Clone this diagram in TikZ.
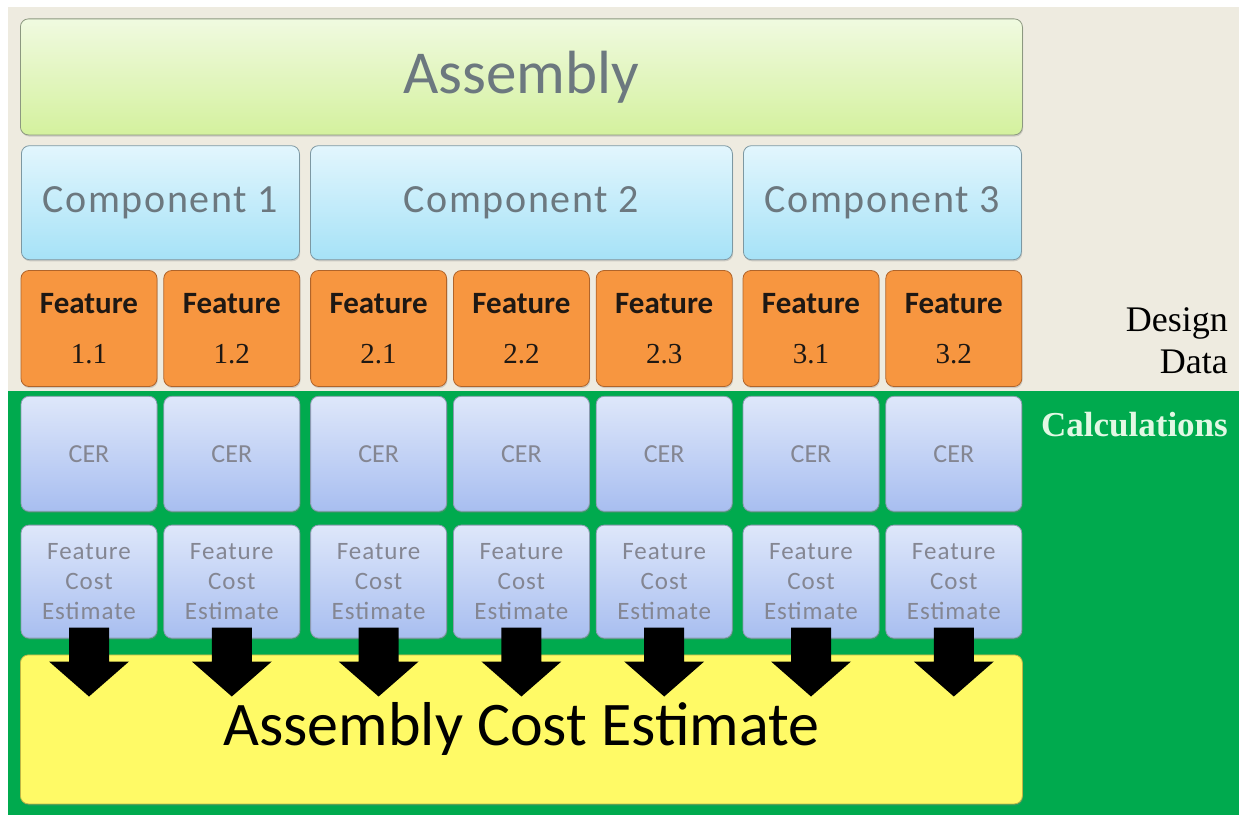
\documentclass[tikz,border=0pt]{standalone}
\usepackage{xcolor}
\usepackage{fontspec}
\setmainfont{Carlito}
\newfontfamily\serifface{Liberation Serif}
\newfontfamily\spacedface[LetterSpace=4]{Carlito}
\usepackage{tikz}
\usetikzlibrary{positioning, calc, shadows}

\definecolor{paper}{RGB}{238,235,224}
\definecolor{calcgreen}{RGB}{0,170,78}
\definecolor{labelgray}{RGB}{108,120,127}
\definecolor{cergray}{RGB}{132,134,146}
\definecolor{featorange}{RGB}{247,150,64}

\begin{document}
\begin{tikzpicture}[x=1pt, y=-1pt,
node distance = 6pt and 6pt,
every box/.style = {rounded corners=8pt, line width=0.8pt, inner sep=0pt,
                    align=center,
                    drop shadow={opacity=.3, shadow xshift=.8pt, shadow yshift=-1.6pt}},
asm/.style  = {every box, draw={rgb,255:red,140;green,152;blue,128},
               top color={rgb,255:red,240;green,250;blue,224},
               bottom color={rgb,255:red,212;green,241;blue,158},
               minimum width=1002pt, minimum height=116pt,
               text=labelgray, font=\fontsize{61}{61}\selectfont},
comp/.style = {every box, draw={rgb,255:red,125;green,152;blue,162},
               top color={rgb,255:red,226;green,246;blue,253},
               bottom color={rgb,255:red,166;green,226;blue,247},
               minimum height=114pt,
               text=labelgray, font=\spacedface\fontsize{40}{40}\selectfont},
feat/.style = {every box, draw={rgb,255:red,176;green,100;blue,42},
               fill=featorange, minimum width=136pt, minimum height=116pt,
               text={rgb,255:red,30;green,24;blue,20},
               font=\bfseries\fontsize{31}{50}\selectfont},
cer/.style  = {every box, draw={rgb,255:red,140;green,154;blue,176},
               top color={rgb,255:red,222;green,231;blue,250},
               bottom color={rgb,255:red,168;green,190;blue,240},
               minimum width=136pt, minimum height=115pt,
               text=cergray, font=\fontsize{26}{26}\selectfont},
est/.style  = {cer, minimum height=113pt,
               font=\spacedface\fontsize{25}{30}\selectfont},
yel/.style  = {every box, draw={rgb,255:red,190;green,182;blue,70},
               fill={rgb,255:red,255;green,250;blue,102},
               minimum width=1002pt, minimum height=149pt,
               font=\fontsize{62}{62}\selectfont},
side/.style = {anchor=east, align=right, inner sep=0pt},
                        ]
% backgrounds
\useasboundingbox (0,0) rectangle (1239,816);
\fill[white] (0,0) rectangle (1239,816);
\fill[paper] (8,7) rectangle (1239,391);
\fill[calcgreen] (8,391) rectangle (1239,815);

% features
\node (f11) [feat] at (89,328.5) {Feature\\{\serifface\mdseries\fontsize{29}{29}\selectfont 1.1}};
\node (f12) [feat, right=of f11]      {Feature\\{\serifface\mdseries\fontsize{29}{29}\selectfont 1.2}};
\node (f21) [feat, right=10pt of f12] {Feature\\{\serifface\mdseries\fontsize{29}{29}\selectfont 2.1}};
\node (f22) [feat, right=of f21]      {Feature\\{\serifface\mdseries\fontsize{29}{29}\selectfont 2.2}};
\node (f23) [feat, right=of f22]      {Feature\\{\serifface\mdseries\fontsize{29}{29}\selectfont 2.3}};
\node (f31) [feat, right=10pt of f23] {Feature\\{\serifface\mdseries\fontsize{29}{29}\selectfont 3.1}};
\node (f32) [feat, right=of f31]      {Feature\\{\serifface\mdseries\fontsize{29}{29}\selectfont 3.2}};

% components and assembly
\coordinate (m1) at ($(f11.north)!.5!(f12.north)$);
\coordinate (m2) at ($(f21.north)!.5!(f23.north)$);
\coordinate (m3) at ($(f31.north)!.5!(f32.north)$);
\node (c1) [comp, minimum width=278pt, above=10pt of m1] {Component 1};
\node (c2) [comp, minimum width=422pt, above=10pt of m2] {Component 2};
\node (c3) [comp, minimum width=278pt, above=10pt of m3] {Component 3};
\coordinate (m4) at ($(c1.north west)!.5!(c3.north east)$);
\node (asm) [asm, above=10pt of m4] {Assembly};

% calculations
\foreach \i in {11,12,21,22,23,31,32} {
  \node (r\i) [cer, below=9pt of f\i]  {CER};
  \node (e\i) [est, below=13pt of r\i] {Feature\\Cost\\Estimate};
}
\coordinate (m5) at ($(e11.south west)!.5!(e32.south east)$);
\node (acost) [yel, below=16pt of m5] {Assembly Cost Estimate};

% block arrows
\foreach \i in {11,12,21,22,23,31,32}
  \fill[black] (e\i.south) ++(-20,-11) -- ++(40,0) -- ++(0,34) -- ++(20,0)
               -- ++(-40,35) -- ++(-40,-35) -- ++(20,0) -- cycle;

% side labels
\node (design) [side, font=\serifface\fontsize{36}{42}\selectfont]
      at (1228,341) {Design\\Data};
\node (calc) [side, text={rgb,255:red,226;green,248;blue,228},
      font=\serifface\bfseries\fontsize{35}{35}\selectfont]
      at (1228,425) {Calculations};
\end{tikzpicture}
\end{document}
